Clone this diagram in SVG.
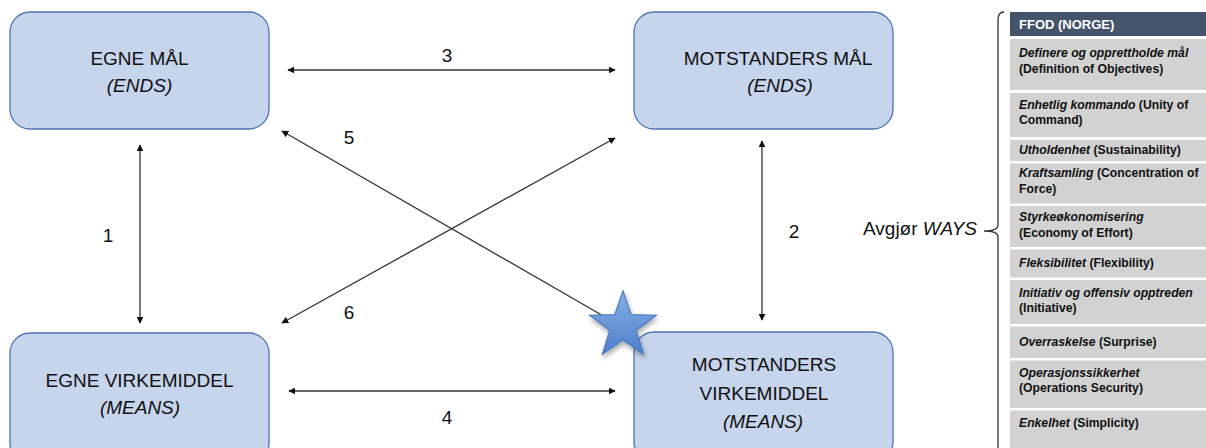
<svg xmlns="http://www.w3.org/2000/svg" width="1206" height="448" viewBox="0 0 1206 448">
<style>
.box{fill:#c6d4ec;stroke:#4e72b2;stroke-width:1.3}
.t{font-family:"Liberation Sans",Arial,sans-serif;font-size:19px;fill:#111;text-anchor:middle}
.it{font-style:italic}
.n{font-family:"Liberation Sans",Arial,sans-serif;font-size:19px;fill:#111;text-anchor:middle}
.c{stroke:#333;stroke-width:1.3;fill:none}
.row{fill:#d2d2d3}
.tt{font-family:"Liberation Sans",Arial,sans-serif;font-size:12.2px;font-weight:bold;fill:#111}
</style>
<defs>
<marker id="ah" viewBox="0 0 10 10" refX="9" refY="5" markerWidth="7" markerHeight="7" markerUnits="userSpaceOnUse" orient="auto-start-reverse">
<path d="M0,0 L10,5 L0,10 z" fill="#111"/>
</marker>
<linearGradient id="sg" x1="0" y1="0" x2="0" y2="1">
<stop offset="0" stop-color="#86afe4"/>
<stop offset="1" stop-color="#4d7fcb"/>
</linearGradient>
<filter id="sh" x="-30%" y="-30%" width="160%" height="160%">
<feDropShadow dx="1" dy="3" stdDeviation="2.5" flood-color="#000" flood-opacity="0.35"/>
</filter>
</defs>

<g id="connectors">
<line class="c" x1="140" y1="145" x2="140" y2="323" marker-start="url(#ah)" marker-end="url(#ah)"/>
<line class="c" x1="762" y1="141" x2="762" y2="320" marker-start="url(#ah)" marker-end="url(#ah)"/>
<line class="c" x1="288" y1="70" x2="615" y2="70" marker-start="url(#ah)" marker-end="url(#ah)"/>
<line class="c" x1="289" y1="391" x2="615" y2="391" marker-start="url(#ah)" marker-end="url(#ah)"/>
<line class="c" x1="282" y1="131" x2="612" y2="321" marker-start="url(#ah)"/>
<line class="c" x1="615" y1="138" x2="282" y2="323" marker-start="url(#ah)" marker-end="url(#ah)"/>
<text class="n" x="108" y="242">1</text>
<text class="n" x="794" y="238">2</text>
<text class="n" x="447" y="62">3</text>
<text class="n" x="447" y="424">4</text>
<text class="n" x="349" y="144">5</text>
<text class="n" x="349" y="319">6</text>
</g>

<g id="egne-maal">
<rect class="box" x="10" y="12" width="259" height="117" rx="20"/>
<text class="t" x="139.5" y="65">EGNE MÅL</text>
<text class="t it" x="139.5" y="92">(ENDS)</text>
</g>

<g id="motstanders-maal">
<rect class="box" x="634" y="12" width="259" height="117" rx="20"/>
<text class="t" x="778" y="65">MOTSTANDERS MÅL</text>
<text class="t it" x="780" y="92">(ENDS)</text>
</g>

<g id="egne-virkemiddel">
<rect class="box" x="10" y="333" width="259" height="130" rx="20"/>
<text class="t" x="139.5" y="387">EGNE VIRKEMIDDEL</text>
<text class="t it" x="140" y="414">(MEANS)</text>
</g>

<g id="motstanders-virkemiddel">
<rect class="box" x="634" y="332" width="259" height="130" rx="20"/>
<text class="t" x="764" y="371">MOTSTANDERS</text>
<text class="t" x="764" y="400">VIRKEMIDDEL</text>
<text class="t it" x="763" y="428">(MEANS)</text>
</g>

<g id="star">
<polygon points="623,291 631.2,314.7 656.3,315.2 636.3,330.3 643.6,354.3 623,340 602.4,354.3 609.7,330.3 589.7,315.2 614.8,314.7" fill="url(#sg)" stroke="#4a7cc2" stroke-width="1.2" filter="url(#sh)"/>
</g>

<g id="ways">
<text font-family="Liberation Sans, Arial, sans-serif" font-size="19" fill="#111" x="863" y="235">Avgjør <tspan font-style="italic">WAYS</tspan></text>
<path class="c" d="M1004,12 Q998,12 998,20 L998,225 Q998,231 984,231 Q998,231 998,237 L998,450" stroke="#404040"/>
</g>

<g id="ffod-table">
<rect x="1010" y="12" width="196" height="24" fill="#44546a"/>
<text x="1019" y="29" font-family="Liberation Sans, Arial, sans-serif" font-size="13" font-weight="bold" fill="#ffffff">FFOD (NORGE)</text>
<rect class="row" x="1010" y="39" width="196" height="51"/>
<rect class="row" x="1010" y="93" width="196" height="44"/>
<rect class="row" x="1010" y="140" width="196" height="21"/>
<rect class="row" x="1010" y="163.5" width="196" height="40"/>
<rect class="row" x="1010" y="206" width="196" height="41"/>
<rect class="row" x="1010" y="249.5" width="196" height="28"/>
<rect class="row" x="1010" y="280" width="196" height="44"/>
<rect class="row" x="1010" y="326.5" width="196" height="31.5"/>
<rect class="row" x="1010" y="360.5" width="196" height="47.5"/>
<rect class="row" x="1010" y="410.5" width="196" height="40"/>
<text class="tt" x="1019" y="57"><tspan font-style="italic">Definere og opprettholde mål</tspan></text>
<text class="tt" x="1019" y="73">(Definition of Objectives)</text>
<text class="tt" x="1019" y="109"><tspan font-style="italic">Enhetlig kommando</tspan> (Unity of</text>
<text class="tt" x="1019" y="124">Command)</text>
<text class="tt" x="1019" y="154"><tspan font-style="italic">Utholdenhet</tspan> (Sustainability)</text>
<text class="tt" x="1019" y="177"><tspan font-style="italic">Kraftsamling</tspan> (Concentration of</text>
<text class="tt" x="1019" y="193">Force)</text>
<text class="tt" x="1019" y="221"><tspan font-style="italic">Styrkeøkonomisering</tspan></text>
<text class="tt" x="1019" y="237">(Economy of Effort)</text>
<text class="tt" x="1019" y="267"><tspan font-style="italic">Fleksibilitet</tspan> (Flexibility)</text>
<text class="tt" x="1019" y="297"><tspan font-style="italic">Initiativ og offensiv opptreden</tspan></text>
<text class="tt" x="1019" y="312">(Initiative)</text>
<text class="tt" x="1019" y="346"><tspan font-style="italic">Overraskelse</tspan> (Surprise)</text>
<text class="tt" x="1019" y="377"><tspan font-style="italic">Operasjonssikkerhet</tspan></text>
<text class="tt" x="1019" y="392">(Operations Security)</text>
<text class="tt" x="1019" y="427"><tspan font-style="italic">Enkelhet</tspan> (Simplicity)</text>
</g>
</svg>
